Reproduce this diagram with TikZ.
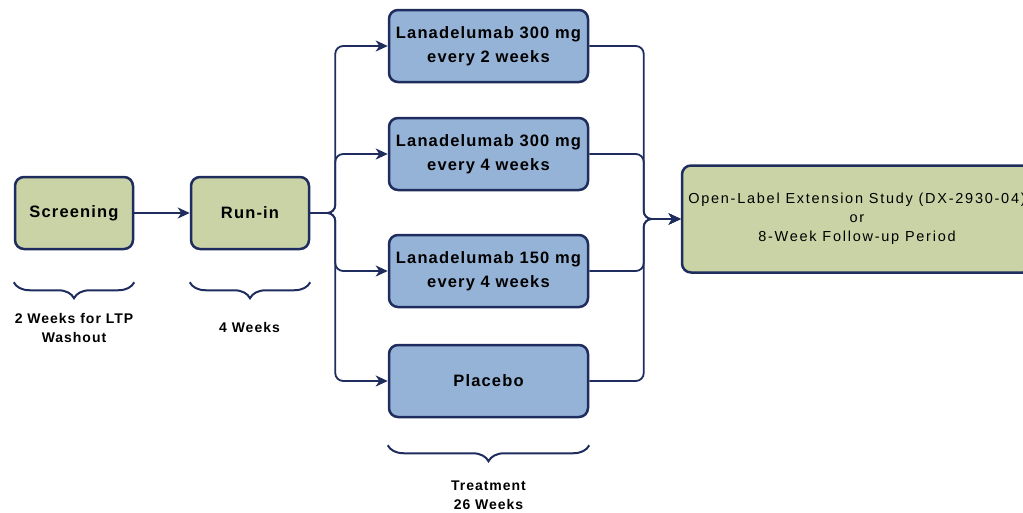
\documentclass[tikz,border=0pt]{standalone}
\usepackage{fontspec}
\setmainfont{Liberation Sans}
\newfontfamily\boxfont{Liberation Sans}[LetterSpace=7]
\newfontfamily\widefont{Liberation Sans}[LetterSpace=12]
\usetikzlibrary{arrows.meta,positioning,decorations.pathreplacing}
\definecolor{navy}{HTML}{1F2D5E}
\definecolor{olive}{HTML}{C9D3A6}
\definecolor{steel}{HTML}{95B3D7}

\begin{document}
\begin{tikzpicture}[x=1pt,y=-1pt,>={Stealth[length=12pt,width=11pt,inset=3.5pt]},
  box/.style={draw=navy,line width=2.5pt,rounded corners=9pt,minimum height=72pt,inner sep=0pt,align=center,
    font=\boxfont\bfseries\fontsize{16.5}{24}\selectfont},
  stage/.style={box,fill=olive,minimum width=118pt},
  arm/.style={box,fill=steel,minimum width=199pt},
  link/.style={->,navy,line width=1.8pt,rounded corners=8pt},
  brc/.style={navy,line width=2pt,decorate,decoration={brace,mirror,amplitude=16pt}},
  tag/.style={font=\boxfont\bfseries\fontsize{14}{19}\selectfont,align=center,inner sep=0pt}]
\useasboundingbox (0,0) rectangle (1023,512);
\clip (0,0) rectangle (1023,512);
% screening and run-in
\node[stage] (scr) at (74,213) {Screening};
\node[stage,right=55.5pt of scr] (run) {Run-in};
% treatment arms
\node[arm] (arm1) at (488.5,46) {Lanadelumab 300 mg\\every 2 weeks};
\node[arm,below=33.5pt of arm1] (arm2) {Lanadelumab 300 mg\\every 4 weeks};
\node[arm,below=42.5pt of arm2] (arm3) {Lanadelumab 150 mg\\every 4 weeks};
\node[arm,below=35.5pt of arm3] (pbo) {Placebo};
% after treatment
\node[stage,minimum width=350pt,minimum height=107pt,font=\widefont\fontsize{14.5}{19}\selectfont] (ole) at (857,219)
  {Open-Label Extension Study (DX-2930-04)\\or\\8-Week Follow-up Period};
\coordinate (split) at ([xshift=25pt]run.east);
\coordinate (merge) at ([xshift=-37pt]ole.west);
\draw[link] (scr) -- (run);
\foreach \a in {arm1,arm2,arm3,pbo}{
  \draw[link] (run.east) -- (split) |- (\a.west);
  \draw[link] (\a.east) -| (merge) -- (ole.west);
}
% durations
\draw[brc] ([yshift=-32pt]scr.south west) -- ([yshift=-32pt]scr.south east);
\draw[brc] ([yshift=-32pt]run.south west) -- ([yshift=-32pt]run.south east);
\draw[brc] ([yshift=-27pt]pbo.south west) -- ([yshift=-27pt]pbo.south east);
\node[tag] (scrtag) at (74,328) {2 Weeks for LTP\\Washout};
\node[tag] (runtag) at (249.5,327) {4 Weeks};
\node[tag] (pbotag) at (488.5,495) {Treatment\\26 Weeks};
\end{tikzpicture}
\end{document}
